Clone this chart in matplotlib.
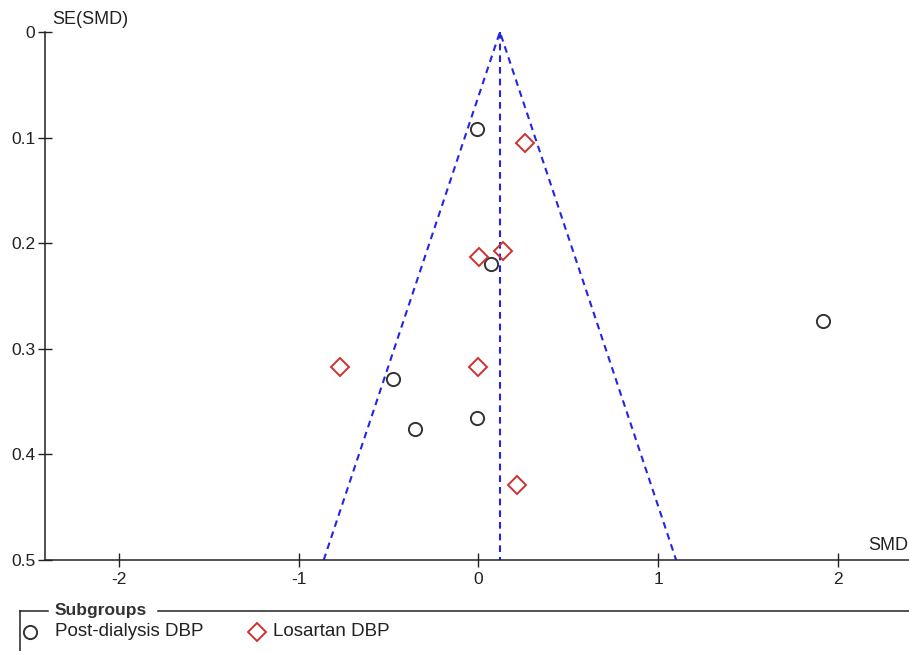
import matplotlib
matplotlib.use("Agg")
import matplotlib.pyplot as plt
from matplotlib.lines import Line2D

plt.rcParams["font.family"] = ["Liberation Sans", "DejaVu Sans"]

# Study estimates per subgroup: effect size (SMD) and its standard error
post_smd = [-0.007, 0.073, 1.915, -0.477, -0.355, -0.007]
post_se = [0.092, 0.220, 0.274, 0.329, 0.376, 0.366]
losartan_smd = [0.26, 0.138, 0.004, -0.77, 0.0, 0.216]
losartan_se = [0.105, 0.207, 0.213, 0.317, 0.317, 0.429]

pooled_smd = 0.12
se_max = 0.5
x_ticks = [-2, -1, 0, 1, 2]
y_ticks = [0, 0.1, 0.2, 0.3, 0.4, 0.5]

W, H = 909, 651
fig = plt.figure(figsize=(W / 100, H / 100), dpi=100)
ax = fig.add_axes([45 / W, 1 - 560 / H, (W - 45) / W, (560 - 32) / H])

INK = "#222222"
FUNNEL = "#2424e8"
RED = "#d03030"

# funnel: pooled estimate and 95% pseudo-confidence limits
dash = (0, (3.2, 2.4))
ax.plot([pooled_smd, pooled_smd], [0, se_max], ls=dash, color=FUNNEL, lw=1.5)
ax.plot([pooled_smd - 1.96 * se_max, pooled_smd, pooled_smd + 1.96 * se_max],
        [se_max, 0, se_max], ls=dash, color=FUNNEL, lw=1.5)

ax.plot(post_smd, post_se, "o", ms=9.5, mfc="none", mec="#333333", mew=1.4,
        ls="none", clip_on=False)
ax.plot(losartan_smd, losartan_se, "D", ms=9.3, mfc="none", mec=RED, mew=1.4,
        ls="none", clip_on=False)

ax.set_xlim(-2.41, 2.395)
ax.set_ylim(se_max, 0)
ax.set_xticks(x_ticks)
ax.set_xticklabels([f"{t:g}" for t in x_ticks])
ax.set_yticks(y_ticks)
ax.set_yticklabels([f"{t:g}" for t in y_ticks])
ax.tick_params(direction="inout", length=10, width=1, color=INK,
               labelsize=12.5, labelcolor=INK, pad=2)
ax.tick_params(axis="x", pad=4)
for s in ["top", "right"]:
    ax.spines[s].set_visible(False)
for s in ["left", "bottom"]:
    ax.spines[s].set_linewidth(1.1)
    ax.spines[s].set_color(INK)

fig.text(52 / W, 1 - 20 / H, "SE(SMD)", fontsize=13, color=INK, va="center", ha="left")
fig.text(908 / W, 1 - 545 / H, "SMD", fontsize=13, color=INK, va="center", ha="right")

# subgroup legend box, open at the bottom and right edges
box_y = 1 - 611 / H
fig.add_artist(Line2D([20 / W, 20 / W], [0, box_y], color=INK, lw=1.1))
fig.add_artist(Line2D([20 / W, 48 / W], [box_y, box_y], color=INK, lw=1.1))
fig.add_artist(Line2D([158 / W, 1], [box_y, box_y], color=INK, lw=1.1))
fig.text(55 / W, box_y, "Subgroups", fontsize=12.5, fontweight="bold",
         color="#333333", va="center", ha="left")

item_y = 1 - 632 / H
fig.add_artist(Line2D([30 / W], [item_y], marker="o", ms=9.5, mfc="none",
                      mec="#333333", mew=1.4))
fig.text(55 / W, item_y, "Post-dialysis DBP", fontsize=13.5, color=INK,
         va="center", ha="left")
fig.add_artist(Line2D([257 / W], [item_y], marker="D", ms=9.3, mfc="none",
                      mec=RED, mew=1.4))
fig.text(273 / W, item_y, "Losartan DBP", fontsize=13.5, color=INK,
         va="center", ha="left")

fig.savefig("out.png", dpi=100)
